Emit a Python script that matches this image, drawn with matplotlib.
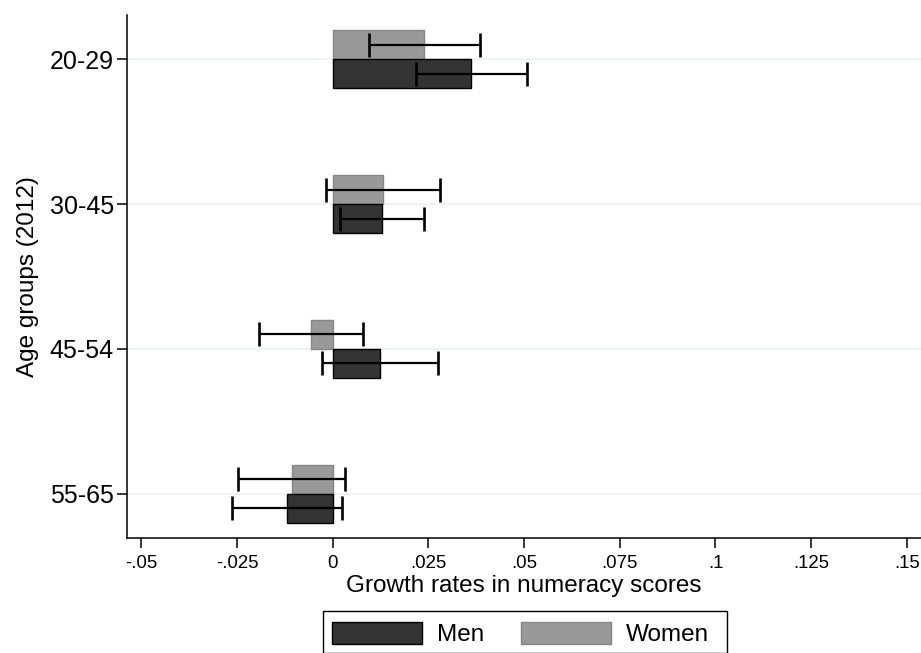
#!/usr/bin/env python3
"""Growth rates in numeracy scores by age group and sex."""

import matplotlib

matplotlib.use("Agg")
import matplotlib.pyplot as plt
import numpy as np
from matplotlib.patches import Patch, Rectangle

plt.rcParams["font.family"] = ["Liberation Sans", "DejaVu Sans"]

age_groups = ["20-29", "30-45", "45-54", "55-65"]

men_growth = [0.0362, 0.0129, 0.0123, -0.0119]
men_ci_low = [0.0218, 0.0018, -0.0028, -0.0263]
men_ci_high = [0.0508, 0.0239, 0.0274, 0.0025]

women_growth = [0.0238, 0.0131, -0.0057, -0.0107]
women_ci_low = [0.0094, -0.0017, -0.0192, -0.0247]
women_ci_high = [0.0384, 0.0281, 0.0078, 0.0031]

x_ticks = [-0.05, -0.025, 0, 0.025, 0.05, 0.075, 0.1, 0.125, 0.15]
x_tick_labels = ["-.05", "-.025", "0", ".025", ".05", ".075", ".1", ".125", ".15"]

MEN_COLOR = "#333333"
WOMEN_COLOR = "#999999"
GRID_COLOR = "#eaf2f3"

W, H = 921, 653
fig = plt.figure(figsize=(W / 100, H / 100), dpi=100)
ax = fig.add_axes([126.7 / W, 1 - 538 / H, (921 - 126.7) / W, (538 - 15) / H])

pos = np.arange(len(age_groups))
bar_h = 0.2

ax.barh(pos - bar_h / 2, women_growth, height=bar_h, color=WOMEN_COLOR,
        edgecolor="#858585", linewidth=1, zorder=2)
ax.barh(pos + bar_h / 2, men_growth, height=bar_h, color=MEN_COLOR,
        edgecolor="black", linewidth=1, zorder=2)


def _errbar(y, val, lo, hi):
    val = np.asarray(val)
    lo = np.asarray(lo)
    hi = np.asarray(hi)
    ax.errorbar(val, y, xerr=[val - lo, hi - val], fmt="none", ecolor="black",
                elinewidth=1.6, capsize=8.5, capthick=1.9, zorder=3)


_errbar(pos - bar_h / 2, women_growth, women_ci_low, women_ci_high)
_errbar(pos + bar_h / 2, men_growth, men_ci_low, men_ci_high)

ax.set_xlim(-0.0538, 0.1537)
ax.set_ylim(3.305, -0.305)

ax.set_yticks(pos)
ax.set_yticklabels(age_groups)
ax.set_xticks(x_ticks)
ax.set_xticklabels(x_tick_labels)

ax.grid(axis="y", color=GRID_COLOR, linewidth=1.2, zorder=0)
ax.set_axisbelow(True)

for side in ("top", "right"):
    ax.spines[side].set_visible(False)
for side in ("left", "bottom"):
    ax.spines[side].set_linewidth(1.1)
    ax.spines[side].set_color("black")

ax.tick_params(axis="x", length=7.2, width=1.1, labelsize=13.4, pad=5)
ax.tick_params(axis="y", length=7.2, width=1.1, labelsize=18, pad=2)

ax.set_xlabel("Growth rates in numeracy scores", fontsize=17.5, labelpad=2)
ax.set_ylabel("Age groups (2012)", fontsize=17.5, labelpad=8)

handles = [
    Patch(facecolor=MEN_COLOR, edgecolor="black", label="Men"),
    Patch(facecolor=WOMEN_COLOR, edgecolor="#858585", label="Women"),
]
leg = fig.legend(handles=handles, loc="upper left",
                 bbox_to_anchor=(322.7 / W, 1 - 612.7 / H), ncol=2,
                 fontsize=17.5, frameon=False,
                 handlelength=3.7, handleheight=1.0,
                 columnspacing=1.5, handletextpad=0.62, borderpad=0.38,
                 borderaxespad=0)

# Stata-style legend box, a bit wider on the right than matplotlib's frame
fig.patches.append(Rectangle((322.7 / W, 0), (727 - 322.7) / W, (653 - 612.7) / H + 0.002,
                             transform=fig.transFigure, fill=False,
                             edgecolor="black", linewidth=1.0))

fig.savefig("out.png", dpi=100)
